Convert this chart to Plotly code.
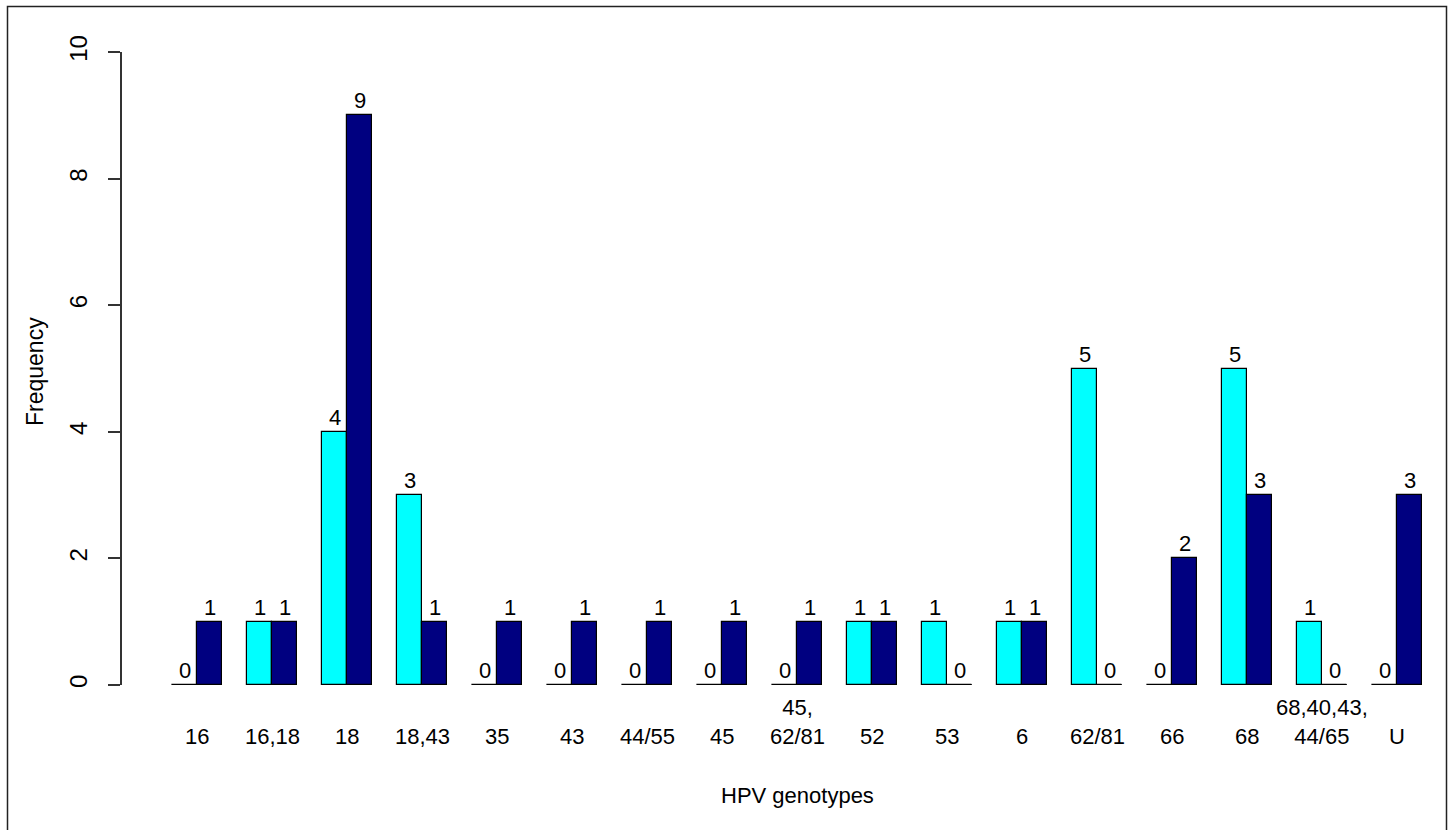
import plotly.graph_objects as go

categories = ["16", "16,18", "18", "18,43", "35", "43", "44/55", "45", "45,<br>62/81",
              "52", "53", "6", "62/81", "66", "68", "68,40,43,<br>44/65", "U"]
series_cyan = [0, 1, 4, 3, 0, 0, 0, 0, 0, 1, 1, 1, 5, 0, 5, 1, 0]
series_navy = [1, 1, 9, 1, 1, 1, 1, 1, 1, 1, 0, 1, 0, 2, 3, 0, 3]
y_ticks = [0, 2, 4, 6, 8, 10]

CYAN = "#00FFFF"
NAVY = "#000080"
W, H = 1450, 830
ML, MR, MT, MB = 122, 16, 52, 145
PW = W - ML - MR
PH = H - MT - MB
UNIT = 25.0  # px per bar width
xr = [-1, -1 + PW / UNIT]

def px_x(px):
    return (px - ML) / PW

def px_y(py):
    return (H - MB - py) / PH

n = len(categories)
x_cyan = [1.5 + 3 * i for i in range(n)]
x_navy = [2.5 + 3 * i for i in range(n)]
x_center = [2.0 + 3 * i for i in range(n)]

fig = go.Figure()
fig.add_trace(go.Bar(x=x_cyan, y=series_cyan, width=1,
                     marker=dict(color=CYAN, line=dict(color="black", width=1.2)),
                     showlegend=False, hoverinfo="skip"))
fig.add_trace(go.Bar(x=x_navy, y=series_navy, width=1,
                     marker=dict(color=NAVY, line=dict(color="black", width=1.2)),
                     showlegend=False, hoverinfo="skip"))

# zero-height bars drawn as a baseline segment
zx, zy = [], []
for xs, vals in ((x_cyan, series_cyan), (x_navy, series_navy)):
    for xv, v in zip(xs, vals):
        if v == 0:
            zx += [xv - 0.5, xv + 0.5, None]
            zy += [0, 0, None]
fig.add_trace(go.Scatter(x=zx, y=zy, mode="lines", line=dict(color="black", width=1.5),
                         showlegend=False, hoverinfo="skip"))

FONT = "Liberation Sans, Arial"
ann = []
for xs, vals in ((x_cyan, series_cyan), (x_navy, series_navy)):
    for xv, v in zip(xs, vals):
        ann.append(dict(x=xv, y=v, xref="x", yref="y", text=str(v), showarrow=False,
                        xanchor="center", yanchor="bottom", yshift=0,
                        font=dict(family=FONT, size=22, color="black")))
for xv, lab in zip(x_center, categories):
    ann.append(dict(x=xv, y=px_y(751), xref="x", yref="paper", text=lab, showarrow=False,
                    xanchor="center", yanchor="bottom", align="center",
                    font=dict(family=FONT, size=22, color="black")))
ann.append(dict(x=26, y=px_y(795), xref="x", yref="paper", text="HPV genotypes",
                showarrow=False, xanchor="center", yanchor="middle",
                font=dict(family=FONT, size=22, color="black")))
ann.append(dict(x=px_x(35), y=px_y(372), xref="paper", yref="paper", text="Frequency",
                showarrow=False, xanchor="center", yanchor="middle", textangle=-90,
                font=dict(family=FONT, size=23, color="black")))

shapes = [dict(type="path", xref="paper", yref="paper",
               path=f"M {px_x(7.5)} {px_y(835)} L {px_x(7.5)} {px_y(6.5)} L {px_x(1446.5)} {px_y(6.5)} L {px_x(1446.5)} {px_y(835)}",
               line=dict(color="#222", width=1.5), layer="above")]

fig.update_layout(
    width=W, height=H, margin=dict(l=ML, r=MR, t=MT, b=MB),
    paper_bgcolor="white", plot_bgcolor="white",
    barmode="overlay", bargap=0,
    xaxis=dict(range=xr, showgrid=False, zeroline=False, showline=False,
               showticklabels=False, ticks=""),
    yaxis=dict(range=[0, 10], tickvals=y_ticks, ticktext=[str(t) for t in y_ticks],
               showgrid=False, zeroline=False, showline=True, linecolor="#333", linewidth=1.5,
               ticks="outside", ticklen=12, tickwidth=1.5, tickcolor="#333",
               tickangle=-90, ticklabelstandoff=12,
               tickfont=dict(family=FONT, size=24, color="black")),
    annotations=ann, shapes=shapes,
)

fig.write_html("out.html", config={"displayModeBar": False},
               post_script="document.body.style.margin='0px';")
